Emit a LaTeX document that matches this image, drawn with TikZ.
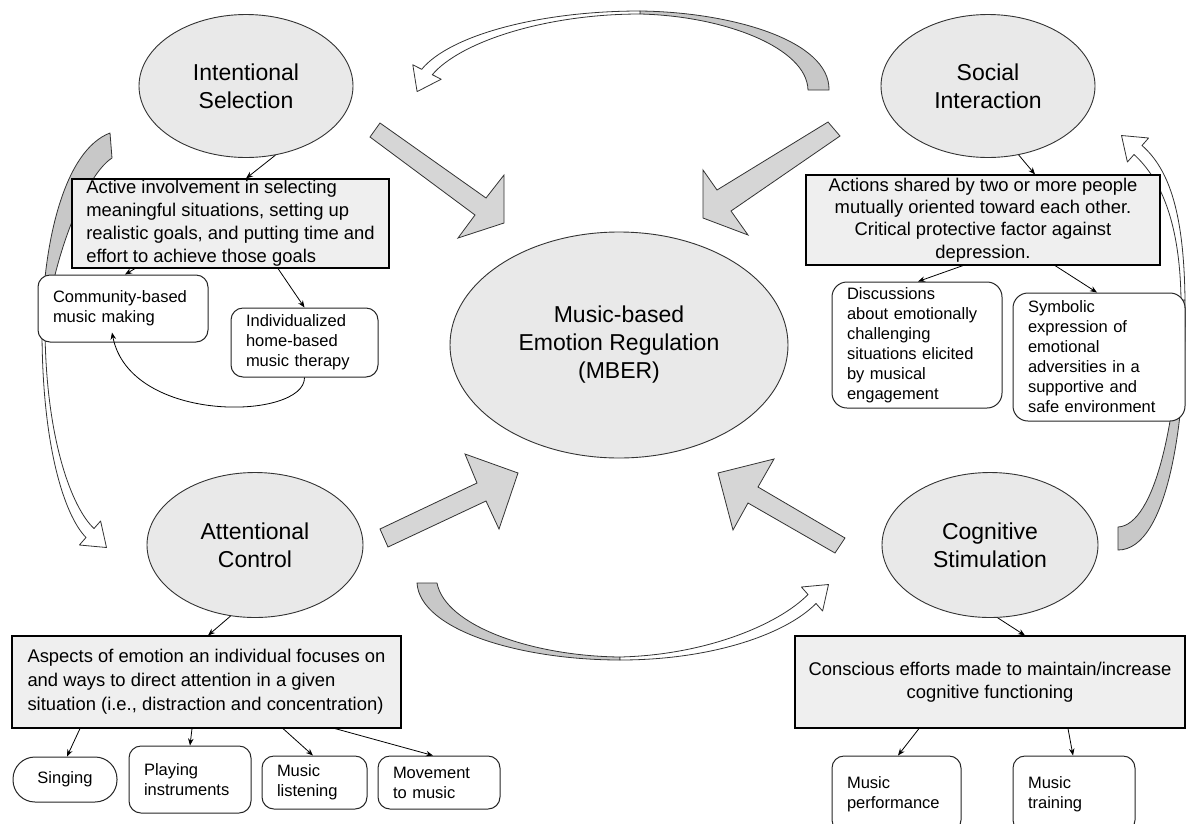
\documentclass[tikz,border=0pt]{standalone}
\usepackage{fontspec}
\setmainfont{Liberation Sans}
\usetikzlibrary{arrows.meta,shapes.geometric}
\definecolor{ellfill}{HTML}{E9E9E9}
\definecolor{boxfill}{HTML}{EFEFEF}
\definecolor{blockfill}{HTML}{D6D6D6}
\definecolor{bandgray}{HTML}{C8C8C8}
\definecolor{edge}{HTML}{333333}

\begin{document}
\begin{tikzpicture}[x=1pt,y=-1pt,
  ell/.style={ellipse, draw=edge, line width=0.9pt, fill=ellfill, inner sep=0pt,
    align=center, font=\fontsize{23}{28}\selectfont},
  infobox/.style={rectangle, draw=black, line width=1.1pt, fill=boxfill, inner sep=0pt,
    font=\fontsize{18.4}{23}\selectfont},
  leaf/.style={rectangle, rounded corners=12pt, draw=black!85, line width=1pt, fill=white,
    inner xsep=15pt, inner ysep=0pt, align=left, font=\fontsize{16.5}{20}\selectfont},
  link/.style={-{Stealth[length=7pt,width=5.5pt]}, line width=0.8pt, black},
  block/.style={fill=blockfill, draw=edge, line width=0.8pt, line join=miter},
  band/.style={draw=edge, line width=0.8pt, line join=round},
]
\useasboundingbox (0,0) rectangle (1192,823);

% ---- main constructs ----
\node[ell, minimum width=338pt, minimum height=226pt] (MBER) at (619,345)
  {Music-based\\Emotion Regulation\\(MBER)};
\node[ell, minimum width=214pt, minimum height=143pt] (IS) at (246,86) {Intentional\\Selection};
\node[ell, minimum width=214pt, minimum height=143pt] (SI) at (988,86) {Social\\Interaction};
\node[ell, minimum width=216pt, minimum height=145pt] (AC) at (255,545) {Attentional\\Control};
\node[ell, minimum width=216pt, minimum height=145pt] (CS) at (990,545) {Cognitive\\Stimulation};

% ---- block arrows into the centre ----
\draw[block] (370,137) -- (380,123) -- (486,198) -- (504,175) -- (504,223) -- (458,238) -- (475,215) -- cycle;
\draw[block] (828,122) -- (717,190) -- (703,170) -- (703,218) -- (748,235) -- (731,211) -- (840,136) -- cycle;
\draw[block] (388,547) -- (380,529) -- (477,483) -- (465,454) -- (518,473) -- (499,529) -- (486,501) -- cycle;
\draw[block] (835,553) -- (845,538) -- (758,487) -- (774,459) -- (718,473) -- (733,530) -- (748,503) -- cycle;

% ---- curved cycle arrows ----
% top: social interaction -> intentional selection
\draw[band, fill=bandgray] (829,90) .. controls (830,40) and (730,12) .. (640,11)
  -- (640,14) .. controls (725,16) and (807,48) .. (808,90) -- cycle;
\draw[band, fill=white] (640,11) .. controls (540,11) and (450,35) .. (421.7,69.3)
  -- (412.8,64.8) -- (417.1,91.6) -- (441.2,79.2) -- (432.3,74.7)
  .. controls (460,42) and (545,14) .. (640,14) -- cycle;
% left: intentional selection -> attentional control
\draw[band, fill=bandgray] (110,133) .. controls (65,150) and (43,240) .. (42,330)
  -- (45,330) .. controls (52,262) and (84,176) .. (112,158) -- cycle;
\draw[band, fill=white] (42,330) .. controls (42,445) and (64,515) .. (86,537.5)
  -- (79.4,545) -- (106.5,547.5) -- (100.6,521) -- (94,528.5)
  .. controls (72,508) and (46,440) .. (45,330) -- cycle;
% bottom: attentional control -> cognitive stimulation
\draw[band, fill=bandgray] (417,583) .. controls (420,630) and (520,660) .. (620,660)
  -- (620,657) .. controls (530,656) and (445,625) .. (437,583) -- cycle;
\draw[band, fill=white] (620,660) .. controls (710,660) and (785,635) .. (816,603.5)
  -- (822.6,611) -- (828.5,584.5) -- (801.4,587) -- (808,594.5)
  .. controls (778,625) and (705,655) .. (620,657) -- cycle;
% right: cognitive stimulation -> social interaction
\draw[band, fill=bandgray] (1118,550) .. controls (1168,550) and (1187,420) .. (1185,300)
  -- (1181,300) .. controls (1178,420) and (1155,525) .. (1118,527) -- cycle;
\draw[band, fill=white] (1185,300) .. controls (1184,215) and (1170,170) .. (1142,145.5)
  -- (1148.6,138) -- (1121.5,135.5) -- (1127.4,162) -- (1134,154.5)
  .. controls (1162,180) and (1180,225) .. (1181,300) -- cycle;

% ---- description boxes ----
\node[infobox, minimum width=317pt, minimum height=89pt, align=left] (ISb) at (230.5,223.5)
  {Active involvement in selecting\\meaningful situations, setting up\\realistic goals, and putting time and\\effort to achieve those goals};
\node[infobox, minimum width=354pt, minimum height=90pt, align=center,
  font=\fontsize{18.4}{22.4}\selectfont] (SIb) at (983,220)
  {Actions shared by two or more people\\mutually oriented toward each other.\\Critical protective factor against\\depression.};
\node[infobox, minimum width=389pt, minimum height=92pt, align=left,
  font=\fontsize{18.4}{24}\selectfont] (ACb) at (206.5,682)
  {Aspects of emotion an individual focuses on\\and ways to direct attention in a given\\situation (i.e., distraction and concentration)};
\node[infobox, minimum width=390pt, minimum height=92pt, align=center,
  font=\fontsize{18.4}{22.5}\selectfont] (CSb) at (990,682)
  {Conscious efforts made to maintain/increase\\cognitive functioning};

% ---- example activities ----
\node[leaf, text width=140pt, minimum height=67pt] (Com) at (123,308.5) {Community-based\\music making};
\node[leaf, text width=117pt, minimum height=69pt] (Ind) at (304.5,342.5) {Individualized\\home-based\\music therapy};
\node[leaf, rounded corners=15pt, text width=140pt, minimum height=126pt] (Disc) at (917,345)
  {Discussions\\about emotionally\\challenging\\situations elicited\\by musical\\engagement};
\node[leaf, rounded corners=15pt, text width=142pt, minimum height=128pt] (Sym) at (1099,357)
  {Symbolic\\expression of\\emotional\\adversities in a\\supportive and\\safe environment};
\node[leaf, rounded corners=22pt, align=center, text width=74pt, minimum height=45pt] (Sing) at (65,779.5) {Singing};
\node[leaf, text width=92pt, minimum height=67pt] (Play) at (190,779.5) {Playing\\instruments};
\node[leaf, text width=75pt, minimum height=53pt] (List) at (314.5,782.5) {Music\\listening};
\node[leaf, text width=92pt, minimum height=53pt] (Move) at (439,782.5) {Movement\\to music};
\node[leaf, text width=99pt, minimum height=76pt] (Perf) at (896.5,794) {Music\\performance};
\node[leaf, text width=92pt, minimum height=76pt] (Train) at (1074,794) {Music\\training};

% ---- thin connectors ----
\draw[link] (IS.293) -- ([xshift=15.5pt]ISb.north);
\draw[link] ([xshift=-95.5pt]ISb.south) -- ([xshift=2pt]Com.north);
\draw[link] ([xshift=47.5pt]ISb.south) -- (Ind.north);
\draw[link] (Ind.south) .. controls (305,420) and (130,425) .. ([xshift=-11pt,yshift=10pt]Com.south);

\draw[link] (SI.294) -- ([xshift=52pt]SIb.north);
\draw[link] ([xshift=-20pt]SIb.south) -- ([xshift=1pt]Disc.north);
\draw[link] ([xshift=72pt]SIb.south) -- ([xshift=-2pt]Sym.north);

\draw[link] (AC.251) -- ([xshift=1.5pt]ACb.north);
\draw[link] ([xshift=-126.5pt]ACb.south) -- ([xshift=2pt]Sing.north);
\draw[link] ([xshift=-14.5pt]ACb.south) -- (Play.north);
\draw[link] ([xshift=76.5pt]ACb.south) -- ([xshift=-1.5pt]List.north);
\draw[link] ([xshift=128.5pt]ACb.south) -- ([xshift=-6pt]Move.north);

\draw[link] (CS.276) -- ([xshift=35pt]CSb.north);
\draw[link] ([xshift=-71pt]CSb.south) -- ([xshift=1.5pt]Perf.north);
\draw[link] ([xshift=78pt]CSb.south) -- ([xshift=-1pt]Train.north);
\end{tikzpicture}
\end{document}
